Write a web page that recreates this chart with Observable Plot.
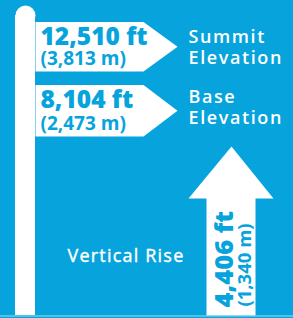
<!DOCTYPE html>
<html>
<head>
<meta charset="utf-8">
<script src="https://cdn.jsdelivr.net/npm/d3@7"></script>
<script src="https://cdn.jsdelivr.net/npm/@observablehq/plot@0.6"></script>
<style>
  html, body { margin: 0; padding: 0; background: #06a3dd; }
  #chart svg { display: block; }
  #chart g[font-weight="600"] text { letter-spacing: 1.6px; }
  #chart g[font-weight="500"] text { letter-spacing: 1.2px; }
</style>
</head>
<body>
<div id="chart"></div>
<script>
// ---- data ----
const signLabels = ["Summit\nElevation", "Base\nElevation"];
const signFeet = [12510, 8104];
const signMeters = [3813, 2473];
const riseLabel = "Vertical Rise";
const riseFeet = 4406;
const riseMeters = 1340;

// ---- layout (pixel space of the infographic) ----
const W = 293, H = 318;
const BLUE = "#06a3dd";
const signTop = [21.5, 84.5];
const signBottom = [71, 136];
const fmt = d3.format(",");

const signs = signLabels.map((label, i) => ({
  label, feet: signFeet[i], meters: signMeters[i],
  top: signTop[i], bottom: signBottom[i], mid: (signTop[i] + signBottom[i]) / 2
}));

const signPts = signs.flatMap((s, i) => [
  {id: i, x: 35, y: s.top},
  {id: i, x: 143, y: s.top},
  {id: i, x: 177, y: s.mid},
  {id: i, x: 143, y: s.bottom},
  {id: i, x: 35, y: s.bottom}
]);

const arrowPts = [
  {x: 231, y: 146}, {x: 273, y: 198}, {x: 255, y: 198}, {x: 255, y: 315},
  {x: 206, y: 315}, {x: 206, y: 198}, {x: 188, y: 198}
];

const numBase = [44, 107];
const mBase = [64.5, 129.5];
const labelBase = [63.5, 123];

const chart = Plot.plot({
  width: W, height: H,
  margin: 0,
  x: {domain: [0, W], range: [0, W], axis: null},
  y: {domain: [0, H], range: [0, H], axis: null},
  style: {background: BLUE},
  marks: [
    // post
    Plot.rect([0], {x1: 15, x2: 35, y1: 15, y2: 315, fill: "white"}),
    Plot.dot([0], {x: 25, y: 15, r: 10, fill: "white", stroke: null}),
    // sign boards
    Plot.line(signPts, {x: "x", y: "y", z: "id", fill: "white", stroke: null, curve: "linear-closed"}),
    // up arrow
    Plot.line(arrowPts, {x: "x", y: "y", fill: "white", stroke: null, curve: "linear-closed"}),
    // bottom edge
    Plot.ruleY([315.5], {stroke: "#9fdcf4", strokeWidth: 1}),
    // sign numbers
    Plot.text(signs, {x: 40, y: (d, i) => numBase[i], text: d => fmt(d.feet) + " ft",
      fill: BLUE, fontSize: 24.5, fontWeight: 800, fontFamily: "Open Sans",
      textAnchor: "start", lineAnchor: "bottom"}),
    Plot.text(signs, {x: 40, y: (d, i) => mBase[i], text: d => "(" + fmt(d.meters) + " m)",
      fill: BLUE, fontSize: 19, fontWeight: 700, fontFamily: "Open Sans",
      textAnchor: "start", lineAnchor: "bottom"}),
    // sign labels
    Plot.text(signs, {x: 188, y: (d, i) => labelBase[i], text: "label",
      fill: "white", fontSize: 18, fontWeight: 600, fontFamily: "Open Sans",
      textAnchor: "start", lineAnchor: "bottom", lineHeight: 1.15}),
    // vertical rise label
    Plot.text([riseLabel], {x: 67, y: 261, text: d => d,
      fill: "white", fontSize: 18, fontWeight: 500, fontFamily: "Open Sans", stroke: "white", strokeWidth: 0.4,
      textAnchor: "start", lineAnchor: "bottom"}),
    // rotated values in arrow
    Plot.text([riseFeet], {x: 232, y: 307, text: d => fmt(d) + " ft", rotate: -90,
      fill: BLUE, fontSize: 25.5, fontWeight: 800, fontFamily: "Open Sans",
      textAnchor: "start", lineAnchor: "bottom"}),
    Plot.text([riseMeters], {x: 250, y: 306, text: d => "(" + fmt(d) + " m)", rotate: -90,
      fill: BLUE, fontSize: 18.5, fontWeight: 700, fontFamily: "Open Sans",
      textAnchor: "start", lineAnchor: "bottom"})
  ]
});
document.getElementById("chart").append(chart);
</script>
</body>
</html>
